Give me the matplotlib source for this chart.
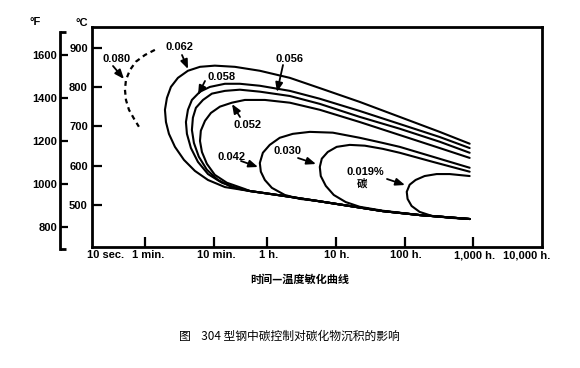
import matplotlib
matplotlib.use("Agg")
import matplotlib.pyplot as plt
from matplotlib.lines import Line2D

# ---------------- data (time in hours, temperature in degC) ----------------
c062_t = [883, 323, 84.5, 22.1, 5.79, 2.12, 0.774, 0.335, 0.171, 0.104, 0.0694, 0.0496,
          0.0392, 0.0343, 0.0321, 0.0332, 0.0367, 0.0449, 0.0607, 0.0877, 0.136, 0.240,
          0.554, 1.67, 5.23, 15.8, 47.8, 165, 452, 883]
c062_T = [656, 686, 724, 762, 797, 823, 841, 851, 854, 851, 841, 823,
          800, 772, 742, 711, 681, 648, 615, 587, 564, 546,
          536, 524, 511, 498, 485, 475, 469, 465]

c058_t = [883, 323, 84.5, 22.1, 5.79, 2.12, 0.774, 0.396, 0.240, 0.145, 0.104, 0.0793,
          0.0694, 0.0649, 0.0671, 0.0767, 0.0970, 0.136, 0.217, 0.396,
          0.554, 1.67, 5.23, 15.8, 47.8, 165, 452, 883]
c058_T = [645, 673, 706, 739, 770, 790, 803, 808, 808, 800, 788, 767,
          742, 711, 681, 645, 610, 579, 557, 541,
          536, 524, 511, 498, 485, 475, 469, 465]

c056_t = [883, 323, 84.5, 22.1, 5.79, 2.12, 0.774, 0.396, 0.240, 0.155, 0.115, 0.0907,
          0.0820, 0.0793, 0.0848, 0.100, 0.131, 0.190, 0.303, 0.469,
          0.554, 1.67, 5.23, 15.8, 47.8, 165, 452, 883]
c056_T = [633, 661, 694, 724, 757, 777, 788, 793, 790, 783, 767, 747,
          722, 691, 658, 623, 590, 564, 546, 539,
          536, 524, 511, 498, 485, 475, 469, 465]

c052_t = [883, 323, 84.5, 22.1, 5.79, 2.12, 0.916, 0.469, 0.303, 0.203, 0.150, 0.123,
          0.107, 0.104, 0.111, 0.131, 0.171, 0.256, 0.469,
          0.554, 1.67, 5.23, 15.8, 47.8, 165, 452, 883]
c052_T = [620, 645, 678, 711, 742, 760, 767, 767, 760, 750, 734, 714,
          689, 663, 635, 605, 577, 557, 541,
          536, 524, 511, 498, 485, 475, 469, 465]

c042_t = [883, 256, 84.5, 47.8, 22.1, 8.95, 4.14, 2.34, 1.51, 1.08, 0.857, 0.774,
          0.801, 0.916, 1.16, 1.79, 2.96, 5.23, 15.8, 47.8, 165, 452, 883]
c042_T = [595, 623, 648, 658, 671, 684, 686, 681, 671, 653, 633, 607,
          585, 564, 544, 526, 516, 511, 498, 485, 475, 469, 465]

c030_t = [883, 256, 84.5, 47.8, 26.2, 15.8, 10.2, 7.56, 6.19, 5.79, 5.98, 7.08,
          9.25, 13.8, 22.1, 47.8, 165, 452, 883]
c030_T = [585, 610, 633, 643, 651, 653, 648, 635, 618, 597, 574, 549,
          526, 508, 496, 486, 475, 469, 465]

c019_t = [883, 452, 292, 195, 144, 118, 107, 110, 126, 165, 247, 452, 883]
c019_T = [574, 579, 579, 574, 564, 552, 534, 516, 498, 483, 473, 468, 465]

c080_t = [0.0229, 0.0164, 0.0121, 0.00993, 0.00868, 0.00839, 0.00868, 0.00960, 0.0114, 0.0134]
c080_T = [894, 881, 864, 843, 818, 793, 767, 742, 719, 699]

time_ticks = [10 / 3600, 1 / 60, 1 / 6, 1, 10, 100, 1000, 10000]
time_labels = ["10 sec.", "1 min.", "10 min.", "1 h.", "10 h.", "100 h.", "1,000 h.", "10,000 h."]
c_ticks = [500, 600, 700, 800, 900]
f_ticks = [800, 1000, 1200, 1400, 1600]

labels = ["0.080", "0.062", "0.058", "0.056", "0.052", "0.042", "0.030", "0.019%"]

# ---------------- figure ----------------
W, H = 580, 368
fig = plt.figure(figsize=(W / 100, H / 100), dpi=100)
fig.patch.set_facecolor("white")

def fx(px):
    return px / W

def fy(py):
    return 1 - py / H

L, R, T, B = 92, 542, 27, 247
ax = fig.add_axes([fx(L), fy(B), (R - L) / W, (B - T) / H])
ax.set_xscale("log")
ax.set_xlim(10 / 3600, 10000)
ax.set_ylim(394, 952)
for s in ax.spines.values():
    s.set_linewidth(2.0)

lab_font = dict(family="Liberation Sans", weight="bold", size=8)

ax.set_xticks(time_ticks[1:-1])
ax.set_xticklabels([])
ax.xaxis.set_minor_locator(matplotlib.ticker.NullLocator())
ax.tick_params(axis="x", direction="in", length=7, width=1.6)
offs = [14, 3, 2, 1, 1, 1, 1, -15]
for t, lab, o in zip(time_ticks, time_labels, offs):
    ax.annotate(lab, xy=(t, 0), xycoords=("data", "axes fraction"),
                xytext=(o * 0.72, -2.5), textcoords="offset points",
                ha="center", va="top", **lab_font)

ax.set_yticks(c_ticks)
ax.set_yticklabels([str(v) for v in c_ticks], **lab_font)
ax.tick_params(axis="y", direction="in", length=7, width=1.6, pad=3)

curve_kw = dict(color="black", lw=1.5, solid_capstyle="round", solid_joinstyle="round")
for t, T_ in [(c062_t, c062_T), (c058_t, c058_T), (c056_t, c056_T), (c052_t, c052_T),
              (c042_t, c042_T), (c030_t, c030_T), (c019_t, c019_T)]:
    ax.plot(t, T_, **curve_kw)
ax.plot(c080_t, c080_T, color="black", lw=1.6, linestyle=(0, (2.2, 1.8)))

# annotations (positions in axes fraction from pixel positions)
def af(px, py):
    return ((px - L) / (R - L), (B - py) / (B - T))

ann = [
    (labels[0], (117, 59), (113, 66), (124, 79)),
    (labels[1], (180, 47), (182, 55), (188, 69)),
    (labels[2], (222, 77), (205, 81), (198, 95)),
    (labels[3], (290, 59), (283, 65), (277, 92)),
    (labels[4], (248, 125), (240, 117), (232, 104)),
    (labels[5], (232, 157), (241, 161), (258, 167)),
    (labels[6], (288, 151), (298, 158), (316, 164)),
    (labels[7], (365, 172), (387, 179), (405, 185)),
]
for txt, tp, a0, a1 in ann:
    ax.text(*af(*tp), txt, transform=ax.transAxes, ha="center", va="center", **lab_font)
    ax.annotate("", xy=af(*a1), xycoords="axes fraction", xytext=af(*a0),
                textcoords="axes fraction",
                arrowprops=dict(arrowstyle="-|>,head_length=0.55,head_width=0.22",
                                color="black", lw=1.3, shrinkA=0, shrinkB=0))
ax.text(*af(362, 183), "碳", transform=ax.transAxes, ha="center", va="center",
        family=["Noto Sans CJK SC", "DejaVu Sans"], weight="bold", size=7.5)

# Fahrenheit axis
FT, FB = 32, 249
axf = fig.add_axes([fx(60), fy(FB), 6 / W, (FB - FT) / H])
axf.set_ylim(698, 1707)
axf.set_xlim(0, 1)
for k in ["top", "right", "bottom"]:
    axf.spines[k].set_visible(False)
axf.spines["left"].set_linewidth(2.0)
axf.set_xticks([])
axf.set_yticks(f_ticks)
axf.set_yticklabels([str(v) for v in f_ticks], **lab_font)
axf.tick_params(axis="y", direction="in", length=6, width=1.6, pad=2)
axf.patch.set_visible(False)
for yy in (0, 1):
    axf.plot([0, 1], [yy, yy], transform=axf.transAxes, color="black", lw=2.0,
             clip_on=False, solid_capstyle="butt")

# unit headers
fig.text(fx(35), fy(22), "°F", ha="center", va="center", **lab_font)
fig.text(fx(82), fy(23), "°C", ha="center", va="center", **lab_font)

# x label and caption
fig.text(fx(300), fy(279), "时间—温度敏化曲线", ha="center", va="center",
         family=["Noto Sans CJK SC", "DejaVu Sans"], weight="bold", size=8)
fig.text(fx(289), fy(336), "图    304 型钢中碳控制对碳化物沉积的影响", ha="center", va="center",
         family=["Noto Sans CJK SC", "DejaVu Sans"], size=8.5)

fig.savefig("out.png", dpi=100, facecolor="white")
